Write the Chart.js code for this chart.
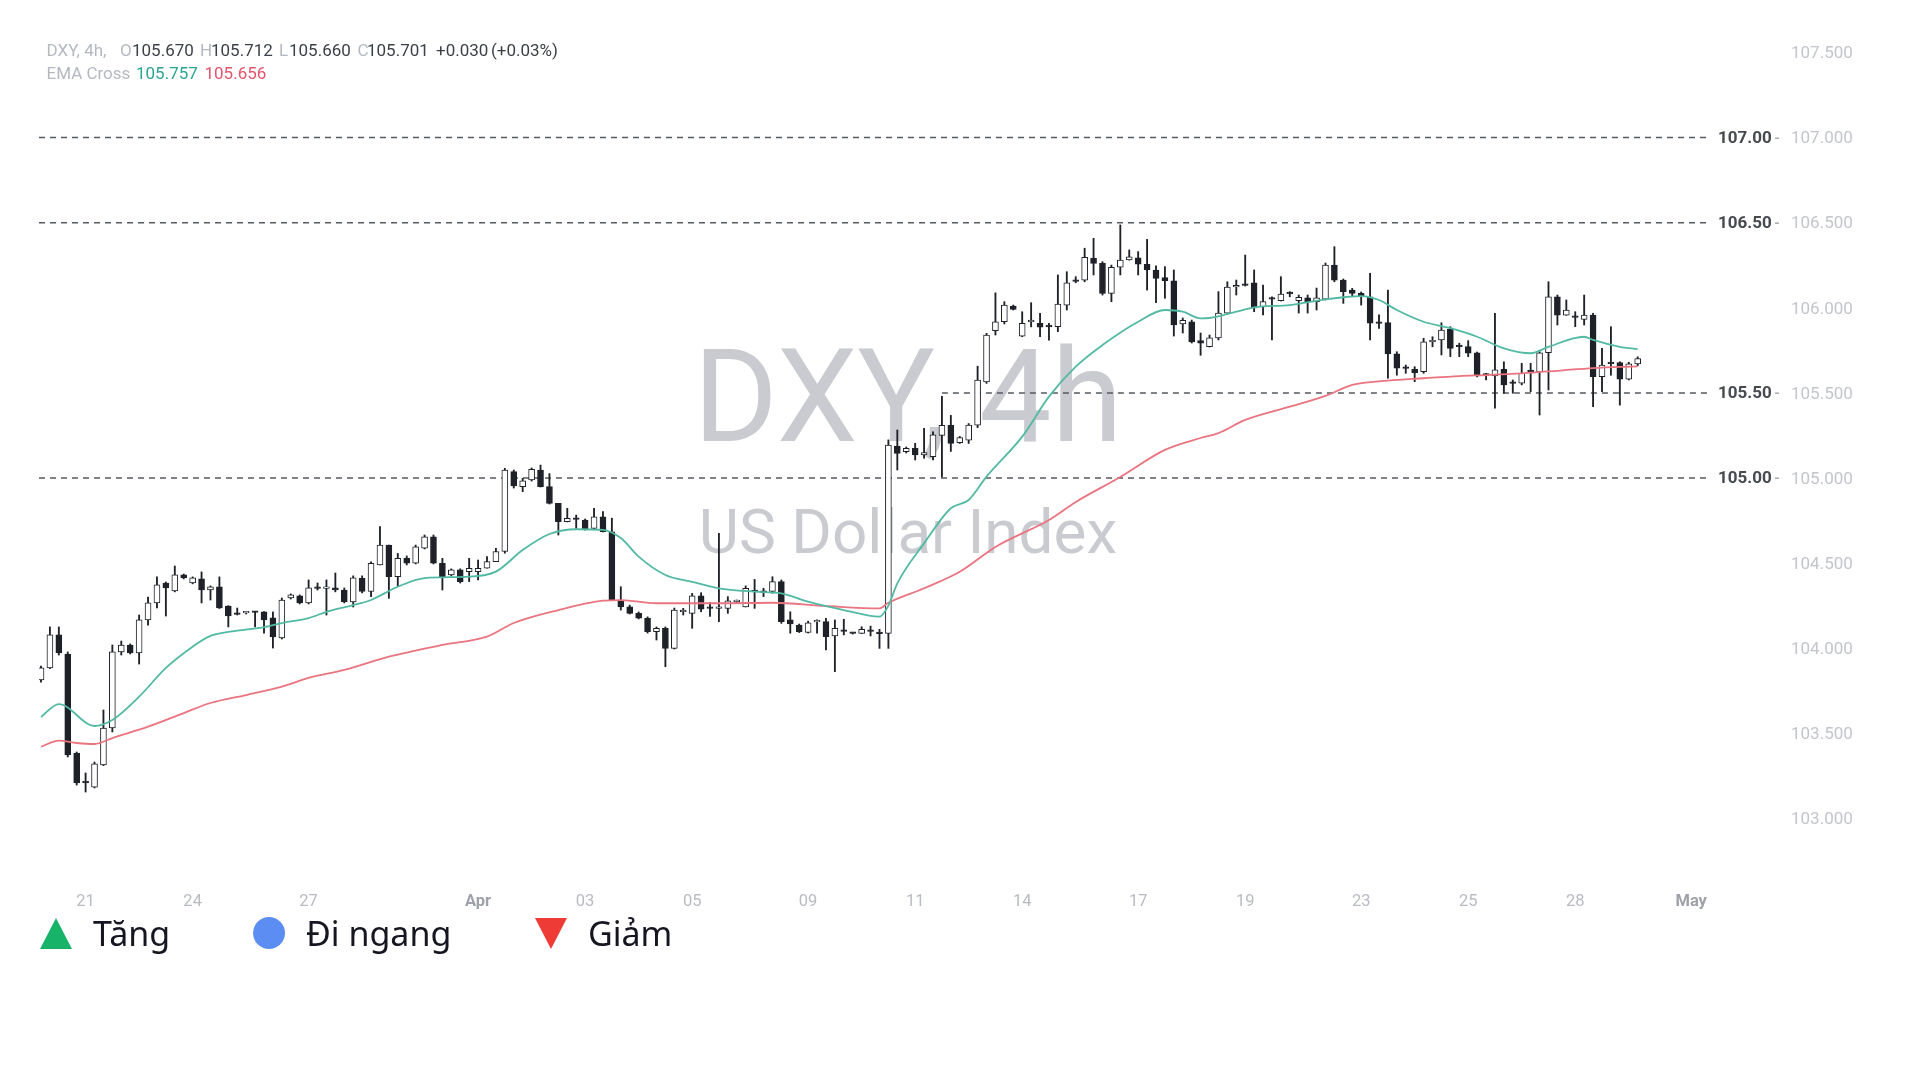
<!DOCTYPE html>
<html>
<head>
<meta charset="utf-8">
<script src="https://cdn.jsdelivr.net/npm/chart.js@4.4.1/dist/chart.umd.min.js"></script>
<style>
html,body{margin:0;padding:0;background:#fff;width:1920px;height:1080px;overflow:hidden;}
#wrap{position:relative;width:1920px;height:1080px;}
#c{position:absolute;left:0;top:0;}
#legend{position:absolute;left:0;top:0;width:1920px;height:1080px;pointer-events:none;}
.mk{position:absolute;width:0;height:0;}
.lt{position:absolute;top:910px;font-family:'Noto Sans';font-size:34px;line-height:46px;color:#15161f;white-space:nowrap;}
</style>
</head>
<body>
<div id="wrap">
<canvas id="c" width="1920" height="1080"></canvas>
<div id="legend"></div>
</div>
<script>
// ---------- DATA ----------
const opens = [
103.813,103.884,104.078,103.966,103.384,103.214,103.184,103.314,103.531,103.978,
104.019,103.972,104.166,104.266,104.383,104.337,104.431,104.383,104.407,104.342,
104.360,104.248,104.201,104.207,104.213,104.213,104.178,104.060,104.295,104.307,
104.266,104.354,104.351,104.354,104.342,104.272,104.411,104.333,104.489,104.606,
104.420,104.528,104.499,104.587,104.655,104.499,104.430,104.460,104.450,104.450,
104.470,104.509,104.568,105.037,104.949,104.988,105.047,104.949,104.851,104.743,
104.757,104.753,104.704,104.772,104.684,104.283,104.243,104.205,104.176,104.097,
104.117,103.999,104.214,104.205,104.307,104.234,104.233,104.234,104.273,104.243,
104.342,104.330,104.333,104.391,104.166,104.136,104.093,104.154,104.156,104.072,
104.103,104.089,104.087,104.103,104.087,104.087,105.188,105.154,105.174,105.135,
105.125,105.250,105.309,105.207,105.222,105.311,105.565,105.865,105.918,106.010,
105.834,105.918,105.909,105.889,105.889,106.016,106.159,106.163,106.291,106.261,
106.085,106.238,106.281,106.294,106.256,106.222,106.177,106.159,105.905,105.918,
105.807,105.772,105.823,105.969,106.122,106.136,106.146,106.007,106.051,106.042,
106.087,106.042,106.058,106.036,106.050,106.251,106.163,106.104,106.085,106.065,
105.909,105.913,105.729,105.645,105.639,105.625,105.800,105.811,105.874,105.772,
105.772,105.736,105.605,105.600,105.639,105.557,105.557,105.625,105.625,105.736,
106.065,105.957,105.948,105.932,105.957,105.595,105.676,105.678,105.580,105.670
];
const highs = [
103.895,104.125,104.125,103.978,103.390,103.267,103.331,103.637,104.019,104.042,
104.025,104.195,104.301,104.419,104.389,104.483,104.436,104.419,104.448,104.366,
104.419,104.250,104.236,104.213,104.216,104.215,104.213,104.295,104.319,104.313,
104.401,104.383,104.401,104.442,104.354,104.425,104.425,104.508,104.714,104.606,
104.557,104.542,104.606,104.665,104.665,104.528,104.466,104.466,104.528,104.518,
104.538,104.587,105.057,105.047,104.998,105.059,105.076,105.026,104.851,104.822,
104.782,104.759,104.822,104.802,104.764,104.361,104.253,104.213,104.184,104.125,
104.125,104.236,104.234,104.322,104.326,104.268,104.675,104.303,104.283,104.366,
104.404,104.352,104.420,104.401,104.214,104.142,104.159,104.166,104.176,104.166,
104.170,104.091,104.126,104.130,104.111,105.224,105.282,105.182,105.204,105.292,
105.272,105.480,105.368,105.244,105.320,105.657,105.850,106.088,106.036,106.016,
105.977,106.030,105.968,105.909,106.193,106.212,106.183,106.350,106.408,106.271,
106.251,106.487,106.340,106.330,106.402,106.246,106.242,106.222,105.940,105.928,
105.852,105.840,106.095,106.153,106.163,106.310,106.222,106.134,106.065,106.183,
106.095,106.075,106.075,106.116,106.263,106.359,106.169,106.114,106.093,106.203,
105.958,106.104,105.742,105.664,105.654,105.821,105.830,105.912,105.889,105.792,
105.807,105.740,105.615,105.968,105.683,105.576,105.674,105.674,105.742,106.153,
106.075,106.046,105.977,106.075,105.968,105.762,105.889,105.683,105.680,105.712
];
const lows = [
103.801,103.880,103.960,103.361,103.196,103.155,103.179,103.310,103.508,103.960,
103.966,103.907,104.136,104.236,104.189,104.331,104.407,104.378,104.266,104.283,
104.233,104.125,104.195,104.201,104.125,104.089,104.001,104.054,104.289,104.260,
104.260,104.342,104.195,104.331,104.266,104.242,104.325,104.303,104.489,104.293,
104.366,104.489,104.495,104.583,104.495,104.342,104.425,104.383,104.391,104.401,
104.470,104.509,104.558,104.941,104.920,104.982,104.947,104.847,104.665,104.742,
104.704,104.694,104.703,104.683,104.282,104.224,104.201,104.172,104.089,104.048,
103.891,103.995,104.195,104.117,104.214,104.186,104.156,104.205,104.266,104.242,
104.234,104.303,104.323,104.146,104.088,104.092,104.089,104.088,103.990,103.862,
104.078,104.083,104.086,104.072,103.999,103.999,105.047,105.147,105.106,105.116,
105.106,105.006,105.156,105.203,105.203,105.296,105.556,105.840,105.905,105.987,
105.830,105.888,105.830,105.810,105.860,105.987,106.147,106.153,106.193,106.075,
106.036,106.193,106.280,106.193,106.104,106.030,106.056,105.834,105.852,105.793,
105.721,105.770,105.811,105.963,106.075,106.128,105.977,105.958,105.811,106.040,
106.065,105.969,105.969,105.987,106.046,106.153,106.026,106.065,106.016,105.811,
105.879,105.586,105.604,105.615,105.566,105.615,105.771,105.723,105.713,105.713,
105.713,105.594,105.576,105.410,105.498,105.498,105.547,105.507,105.370,105.517,
105.899,105.956,105.889,105.899,105.419,105.507,105.604,105.428,105.576,105.660
];
const closes = [
103.884,104.078,103.972,103.373,103.208,103.208,103.320,103.531,103.978,104.019,
103.972,104.166,104.266,104.372,104.354,104.431,104.413,104.413,104.342,104.360,
104.236,104.189,104.198,104.210,104.210,104.166,104.066,104.283,104.313,104.266,
104.354,104.351,104.354,104.342,104.272,104.413,104.333,104.499,104.606,104.420,
104.528,104.499,104.596,104.655,104.499,104.420,104.460,104.391,104.470,104.470,
104.509,104.568,105.047,104.953,104.984,105.051,104.949,104.851,104.743,104.763,
104.756,104.698,104.772,104.684,104.283,104.243,104.205,104.176,104.097,104.117,
103.999,104.224,104.216,104.307,104.229,104.233,104.235,104.278,104.275,104.352,
104.330,104.328,104.391,104.156,104.142,104.097,104.149,104.156,104.068,104.117,
104.099,104.087,104.111,104.099,104.086,105.194,105.145,105.174,105.135,105.149,
105.253,105.309,105.203,105.238,105.311,105.575,105.840,105.918,106.016,105.990,
105.909,105.919,105.886,105.888,106.022,106.147,106.155,106.297,106.261,106.085,
106.238,106.281,106.300,106.256,106.222,106.173,106.159,105.899,105.927,105.800,
105.792,105.823,105.969,106.122,106.124,106.132,105.999,106.036,106.050,106.081,
106.083,106.062,106.036,106.058,106.251,106.163,106.095,106.085,106.065,105.909,
105.908,105.729,105.645,105.644,105.619,105.800,105.800,105.869,105.762,105.771,
105.733,105.600,105.604,105.635,105.547,105.556,105.615,105.624,105.736,106.065,
105.957,105.987,105.944,105.957,105.595,105.664,105.672,105.580,105.671,105.701
];
// EMA readings (candle index -> value)
const emaFastIdx = [0,2,6,8,11,14,17,19,22,25,27,30,32,36,37,40,43,48,51,54,57,60,63,65,67,70,73,76,80,83,86,90,94,95,96,99,102,104,106,110,113,116,119,123,126,128,130,131,134,136,140,144,146,148,150,152,155,158,161,164,167,169,173,174,177,179];
const emaFastVal = [103.596,103.672,103.543,103.578,103.715,103.884,104.009,104.072,104.103,104.124,104.148,104.177,104.214,104.266,104.283,104.361,104.412,104.420,104.450,104.577,104.671,104.699,104.695,104.647,104.538,104.430,104.390,104.352,104.332,104.322,104.273,104.224,104.185,104.250,104.381,104.616,104.822,104.871,105.008,105.243,105.478,105.654,105.781,105.918,105.987,105.977,105.938,105.940,105.977,106.003,106.016,106.050,106.062,106.069,106.046,105.987,105.918,105.880,105.830,105.762,105.733,105.771,105.830,105.811,105.771,105.757];
const emaSlowIdx = [0,2,4,6,8,12,16,19,23,27,30,34,39,45,50,53,58,63,65,69,76,82,88,94,95,99,103,107,113,116,121,126,130,132,135,140,144,147,151,155,159,162,166,170,174,179];
const emaSlowVal = [103.421,103.457,103.443,103.437,103.472,103.539,103.619,103.678,103.725,103.774,103.825,103.872,103.950,104.019,104.068,104.148,104.224,104.279,104.283,104.264,104.264,104.267,104.248,104.234,104.267,104.352,104.449,104.595,104.753,104.859,105.006,105.165,105.235,105.264,105.341,105.419,105.482,105.547,105.572,105.586,105.599,105.605,105.615,105.630,105.646,105.656];
// Horizontal level lines
const levelValues = [107.00, 106.50, 105.50, 105.00];
const levelStartIdx = [-0.224, -0.224, 101, -0.224];
const levelEndIdx = 186.9;
// Axis ticks
const xTickIndex  = [5,17,30,49,61,73,86,98,110,123,135,148,160,172,185];
const xTickLabels = ['21','24','27','Apr','03','05','09','11','14','17','19','23','25','28','May'];
const yTickValues = [103.0,103.5,104.0,104.5,105.0,105.5,106.0,106.5,107.0,107.5];
// Legend
const legendLabels = ['Tăng','Đi ngang','Giảm'];

// ---------- LAYOUT ----------
const AREA = {left:39, top:20, right:1783, bottom:885};
const PX_PER_UNIT = 170.2;
const yMax = 107.5 + (52.5 - AREA.top) / PX_PER_UNIT;
const yMin = 107.5 - (AREA.bottom - 52.5) / PX_PER_UNIT;
const STEP = 8.92;
const xMin = -(41 - AREA.left) / STEP;
const xMax = xMin + (AREA.right - AREA.left) / STEP;

const n = Math.min(opens.length, highs.length, lows.length, closes.length);
const bodyData = [], wickData = [];
for (let i = 0; i < n; i++) {
  bodyData.push({x: i, y: [opens[i], closes[i]]});
  wickData.push({x: i, y: [lows[i], highs[i]]});
}
const INK = '#1e2128';

const datasets = [
  {type:'line', label:'EMA fast', data: emaFastIdx.map((x,k)=>({x, y: emaFastVal[k]})),
   borderColor:'#52b9a3', borderWidth:1.8, pointRadius:0, tension:0.4, cubicInterpolationMode:'monotone', order:0},
  {type:'line', label:'EMA slow', data: emaSlowIdx.map((x,k)=>({x, y: emaSlowVal[k]})),
   borderColor:'#ea7480', borderWidth:1.8, pointRadius:0, tension:0.4, cubicInterpolationMode:'monotone', order:0},
  {type:'bar', label:'Body', data: bodyData, grouped:false, barThickness:6, minBarLength:1.6,
   borderWidth:1, borderColor: INK, borderSkipped:false,
   backgroundColor: c => (closes[c.dataIndex] >= opens[c.dataIndex] ? '#ffffff' : INK), order:1},
  {type:'bar', label:'Wick', data: wickData, grouped:false, barThickness:1.2,
   backgroundColor: INK, borderWidth:0, order:2}
];
levelValues.forEach((v, k) => {
  datasets.push({type:'line', label:'Level ' + v.toFixed(2),
    data:[{x: levelStartIdx[k], y: v}, {x: levelEndIdx, y: v}],
    borderColor:'#555a60', borderWidth:1.5, borderDash:[6,5], pointRadius:0, order:5});
});

const overlay = {
  id:'overlay',
  beforeDatasetsDraw(chart){
    const ctx = chart.ctx;
    ctx.save();
    ctx.fillStyle = '#c9cbd0';
    ctx.textAlign = 'center';
    ctx.textBaseline = 'alphabetic';
    ctx.font = '129px Roboto';
    ctx.fillText('DXY, 4h', 908, 441);
    ctx.font = '62px Roboto';
    ctx.fillText('US Dollar Index', 908, 553);
    ctx.restore();
  },
  afterDatasetsDraw(chart){
    const ctx = chart.ctx, ys = chart.scales.y;
    ctx.save();
    ctx.font = 'bold 17px Roboto';
    ctx.textAlign = 'left';
    ctx.textBaseline = 'middle';
    levelValues.forEach(v => {
      const y = ys.getPixelForValue(v);
      ctx.fillStyle = '#464a50';
      ctx.fillText(v.toFixed(2), 1718, y + 1);
      ctx.fillStyle = '#9a9ea5';
      ctx.fillRect(1775, Math.round(y) - 0.5, 4, 1.3);
    });
    ctx.restore();
  },
  afterDraw(chart){
    const ctx = chart.ctx;
    const last = n - 1;
    const chg = closes[last] - closes[last - 1];
    const pct = chg / closes[last - 1] * 100;
    const sgn = x => (x >= 0 ? '+' : '');
    const light = '#b4b8c0', dark = '#3b3f47';
    const row1 = [
      ['DXY, 4h,', 46.5, light],
      ['O', 120, light], [opens[last].toFixed(3), 132, dark],
      ['H', 200, light], [highs[last].toFixed(3), 211, dark],
      ['L', 279, light], [lows[last].toFixed(3), 289, dark],
      ['C', 357.5, light], [closes[last].toFixed(3), 367, dark],
      [sgn(chg) + chg.toFixed(3), 436, dark],
      ['(' + sgn(pct) + pct.toFixed(2) + '%)', 491, dark]
    ];
    const row2 = [
      ['EMA Cross', 46.5, light],
      [emaFastVal[emaFastVal.length-1].toFixed(3), 136, '#2aa592'],
      [emaSlowVal[emaSlowVal.length-1].toFixed(3), 204.5, '#e3536a']
    ];
    ctx.save();
    ctx.font = '17px Roboto';
    ctx.textAlign = 'left';
    ctx.textBaseline = 'middle';
    row1.forEach(([t,x,c]) => { ctx.fillStyle = c; ctx.fillText(t, x, 52); });
    row2.forEach(([t,x,c]) => { ctx.fillStyle = c; ctx.fillText(t, x, 75); });
    ctx.restore();
  }
};

new Chart(document.getElementById('c'), {
  type:'bar',
  data:{datasets},
  options:{
    responsive:false,
    animation:false,
    devicePixelRatio:1,
    layout:{padding:{left:AREA.left, top:AREA.top, right:0, bottom:1080 - AREA.bottom - 40}},
    plugins:{legend:{display:false}, tooltip:{enabled:false}},
    scales:{
      x:{
        type:'linear', min:xMin, max:xMax, offset:false,
        grid:{display:false, drawTicks:false}, border:{display:false},
        afterBuildTicks: s => { s.ticks = xTickIndex.map(v => ({value:v})); },
        afterFit: s => { s.height = 40; },
        ticks:{
          autoSkip:false, maxRotation:0, padding:7,
          callback:(v, i) => xTickLabels[i],
          color: c => (['Apr','May'].includes(xTickLabels[c.index]) ? '#9ea1a9' : '#b8bbc2'),
          font: c => ({family:'Roboto', size:16.5, weight: (['Apr','May'].includes(xTickLabels[c.index]) ? 'bold' : 'normal')})
        }
      },
      y:{
        type:'linear', position:'right', min:yMin, max:yMax,
        grid:{display:false, drawTicks:false}, border:{display:false},
        afterBuildTicks: s => { s.ticks = yTickValues.map(v => ({value:v})); },
        afterFit: s => { s.width = 1920 - AREA.right; },
        ticks:{padding:8, labelOffset:1.5, color:'#c2c5cb', font:{family:'Roboto', size:17}, callback: v => Number(v).toFixed(3)}
      }
    }
  },
  plugins:[overlay]
});

// HTML legend
(function(){
  const L = document.getElementById('legend');
  const marks = [
    {style:'left:40px;top:918px;border-left:16.5px solid transparent;border-right:16.5px solid transparent;border-bottom:31px solid #17b368;'},
    {style:'left:253px;top:917px;width:32px;height:32px;border-radius:50%;background:#5b8df2;'},
    {style:'left:535px;top:918px;border-left:16px solid transparent;border-right:16px solid transparent;border-top:31px solid #ee3b35;'}
  ];
  const textX = [93, 306, 588];
  legendLabels.forEach((t, k) => {
    const m = document.createElement('span'); m.className = 'mk'; m.setAttribute('style', marks[k].style); L.appendChild(m);
    const s = document.createElement('span'); s.className = 'lt'; s.style.left = textX[k] + 'px'; s.textContent = t; L.appendChild(s);
  });
})();
</script>
</body>
</html>
